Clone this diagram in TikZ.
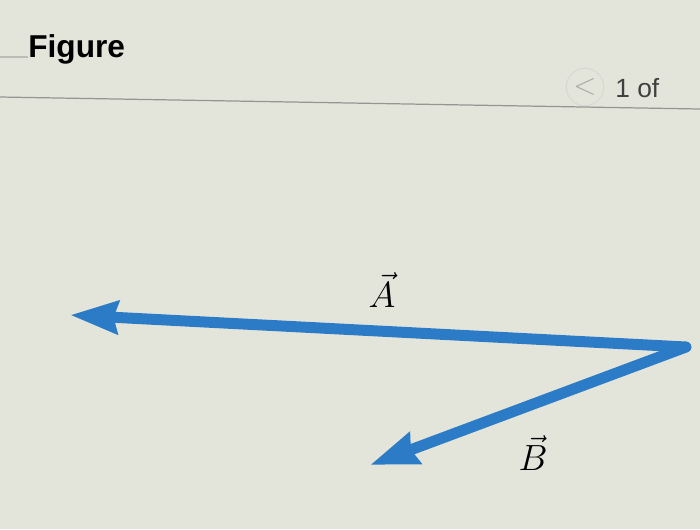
\documentclass[tikz,border=0pt]{standalone}
\usepackage{amsmath,amssymb}
\usepackage{xcolor}
\usepackage{fontspec}
\setsansfont{Liberation Sans}
\usetikzlibrary{arrows.meta}
\definecolor{screen}{HTML}{E3E5DB}
\definecolor{vecblue}{HTML}{2B7BC6}
\definecolor{rule}{HTML}{B9BDB4}

\begin{document}
\begin{tikzpicture}[x=0.02cm, y=-0.02cm, every node/.style={inner sep=0pt},%
        vec/.style={line width=11*0.02cm, vecblue, -{Stealth[length=0.95cm, width=0.64cm, inset=0.08cm]}},
        vlabel/.style={font=\fontsize{21}{23}\selectfont}]
    \fill[screen] (0,0) rectangle (700,529);
    \useasboundingbox (0,0) rectangle (700,529);
    % header
    \node[anchor=west, font=\sffamily\bfseries\fontsize{18}{20}\selectfont] (title) at (28,49) {Figure};
    \coordinate (stub) at (0,57);
    \draw[rule, line width=0.6pt] (stub) -- (title.west |- stub);
    \coordinate (ruleL) at (0,97);
    \coordinate (ruleR) at (700,109);
    \draw[rule!80!black, line width=0.7pt] (ruleL) -- (ruleR);
    \node[circle, draw=rule!60, line width=0.5pt, minimum size=0.75cm, text=rule!90!black, font=\sffamily\fontsize{16}{18}\selectfont] (prev) at (585,87) {$<$};
    \node[anchor=west, text=black!75, font=\sffamily\fontsize{15}{17}\selectfont] (page) at (615,88) {1 of};
    % vectors
    \coordinate (tail) at (686,347);
    \coordinate (tipA) at (70,315);
    \coordinate (tipB) at (370,465);
    \draw[vec, line cap=round, line join=round] (tail) -- (tipA);
    \draw[vec, line cap=round] (tail) -- (tipB);
    \node[vlabel] (labA) at (382,290) {$\vec{A}$};
    \node[vlabel] (labB) at (533,453) {$\vec{B}$};
\end{tikzpicture}
\end{document}
